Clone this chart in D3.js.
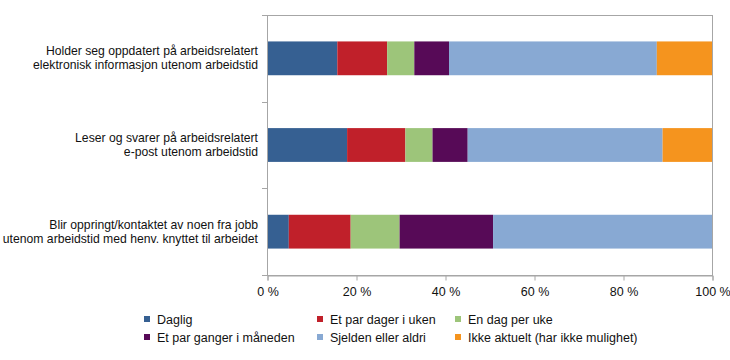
<!DOCTYPE html>
<html>
<head>
<meta charset="utf-8">
<script src="https://cdn.jsdelivr.net/npm/d3@7"></script>
<style>
  body { margin: 0; background: #fff; }
  text { font-family: "Liberation Sans", Arial, sans-serif; fill: #111; }
</style>
</head>
<body>
<svg width="730" height="360"></svg>
<script>
// Data
const categories = [
  ["Holder seg oppdatert på arbeidsrelatert", "elektronisk informasjon utenom arbeidstid"],
  ["Leser og svarer på arbeidsrelatert", "e-post utenom arbeidstid"],
  ["Blir oppringt/kontaktet av noen fra jobb", "utenom arbeidstid med henv. knyttet til arbeidet"]
];
const seriesNames = ["Daglig", "Et par dager i uken", "En dag per uke",
  "Et par ganger i måneden", "Sjelden eller aldri", "Ikke aktuelt (har ikke mulighet)"];
const daglig      = [15.8, 18.0, 4.9];
const parDager    = [11.2, 13.1, 13.9];
const enDag       = [6.1, 6.1, 11.0];
const parGanger   = [7.8, 7.9, 21.0];
const sjelden     = [46.7, 43.8, 49.2];
const ikkeAktuelt = [12.4, 11.1, 0];
const xTicks = [0, 20, 40, 60, 80, 100];
const colors = ["#366092", "#c0202a", "#9dc57a", "#570a57", "#88a9d3", "#f5941e"];

const svg = d3.select("svg");
const margin = { left: 267, right: 18, top: 15, bottom: 85 };
const W = 730, H = 360;

const x = d3.scaleLinear().domain([0, 100]).range([margin.left, W - margin.right]);
const y = d3.scaleBand().domain(d3.range(categories.length))
    .range([margin.top, H - margin.bottom]).paddingInner(0.61).paddingOuter(0.305);

// stack the series
const rows = categories.map((c, i) => ({
  s0: daglig[i], s1: parDager[i], s2: enDag[i], s3: parGanger[i], s4: sjelden[i], s5: ikkeAktuelt[i]
}));
const stack = d3.stack().keys(["s0", "s1", "s2", "s3", "s4", "s5"])(rows);

svg.append("g").selectAll("g")
  .data(stack).enter().append("g")
    .attr("fill", (d, i) => colors[i])
  .selectAll("rect")
  .data(d => d).enter().append("rect")
    .attr("x", d => x(d[0]))
    .attr("width", d => x(d[1]) - x(d[0]))
    .attr("y", (d, i) => y(i))
    .attr("height", y.bandwidth());

// frame
const frameColor = "#a6a6a6";
svg.append("rect")
    .attr("x", x(0) + 0.5).attr("y", margin.top + 0.5)
    .attr("width", x(100) - x(0)).attr("height", H - margin.bottom - margin.top)
    .attr("fill", "none").attr("stroke", frameColor);

// y ticks (band boundaries)
const yBounds = d3.range(categories.length + 1).map(i => margin.top + i * (H - margin.bottom - margin.top) / categories.length);
svg.append("g").selectAll("line")
  .data(yBounds).enter().append("line")
    .attr("x1", x(0) - 5).attr("x2", x(0))
    .attr("y1", d => Math.round(d) + 0.5).attr("y2", d => Math.round(d) + 0.5)
    .attr("stroke", frameColor);

// x axis
const xAxis = svg.append("g")
    .attr("transform", `translate(0.5,${H - margin.bottom + 0.5})`)
    .call(d3.axisBottom(x).tickValues(xTicks).tickSize(5).tickPadding(7).tickFormat(d => d + " %"));
xAxis.select(".domain").attr("stroke", frameColor);
xAxis.selectAll(".tick line").attr("stroke", frameColor);
xAxis.selectAll("text").style("font-size", "12.5px").attr("fill", "#111");

// category labels
categories.forEach((lines, i) => {
  const cy = y(i) + y.bandwidth() / 2;
  const t = svg.append("text")
      .attr("text-anchor", "end")
      .attr("x", 258)
      .attr("y", cy - 7 + 4)
      .style("font-size", "12.2px");
  lines.forEach((ln, j) => {
    t.append("tspan").attr("x", 258).attr("dy", j === 0 ? 0 : 14).text(ln);
  });
});

// legend
const legendX = [147, 320, 458];
const legendY = [319, 337];
seriesNames.forEach((name, i) => {
  const lx = legendX[i % 3], ly = legendY[Math.floor(i / 3)];
  const g = svg.append("g");
  g.append("rect").attr("x", lx - 3).attr("y", ly - 3).attr("width", 6).attr("height", 6).attr("fill", colors[i]);
  g.append("text").attr("x", lx + 10).attr("y", ly + 4.5).style("font-size", "12.5px").text(name);
});
</script>
</body>
</html>
